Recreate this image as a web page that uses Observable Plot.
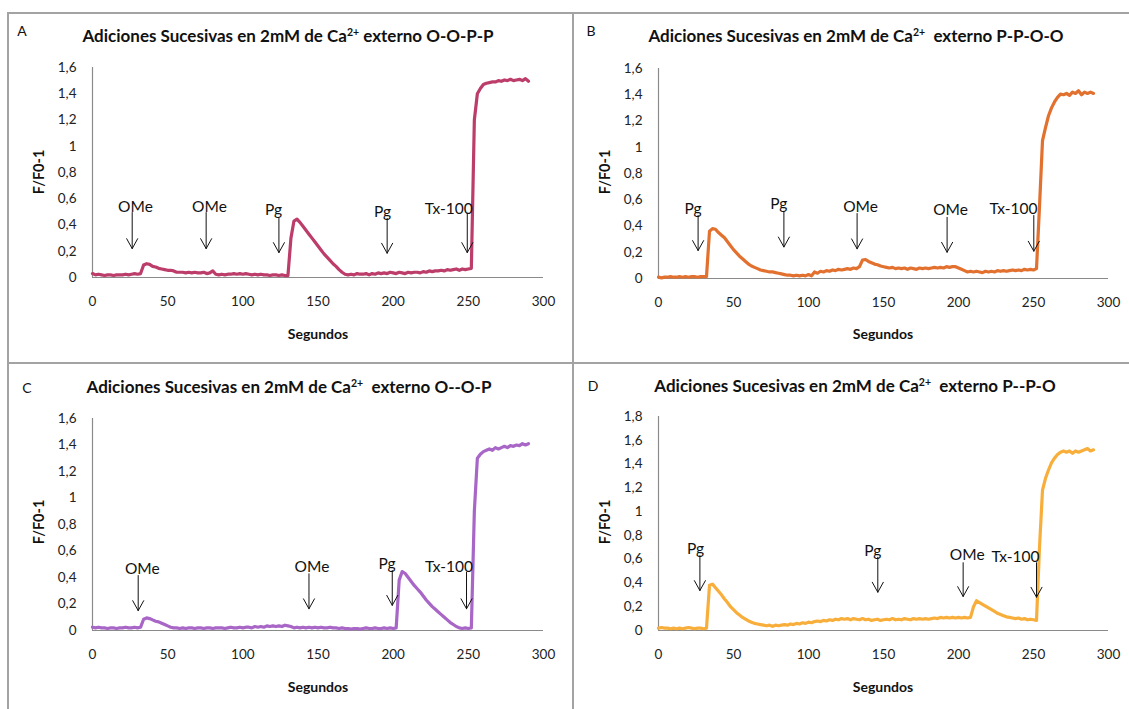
<!DOCTYPE html>
<html><head><meta charset="utf-8">
<script src="https://cdn.jsdelivr.net/npm/d3@7"></script>
<script src="https://cdn.jsdelivr.net/npm/@observablehq/plot@0.6"></script>
<style>
body{margin:0;background:#fff;}
#root{position:relative;width:1129px;height:709px;overflow:hidden;font-family:Lato,"Open Sans",sans-serif;color:#111;}
.ln{position:absolute;background:#a3a3a3;}
.pl{position:absolute;}
.pl svg{overflow:visible;}
.tt{position:absolute;font-weight:bold;font-size:17px;white-space:nowrap;transform:translate(-50%,-50%);}
.tt sup{font-size:0.62em;vertical-align:0.55em;line-height:0;}
.lt{position:absolute;font-size:14px;transform:translate(-50%,-50%);}
.xl{position:absolute;font-weight:bold;font-size:14px;transform:translate(-50%,-50%);}
.yl{position:absolute;font-weight:bold;font-size:14.5px;white-space:nowrap;transform:translate(-50%,-50%) rotate(-90deg);}
</style></head>
<body><div id="root"></div>
<script>
// ---- data ----
const segundos = [0,2,4,6,8,10,12,14,16,18,20,22,24,26,28,30,32,34,36,38,40,42,44,46,48,50,52,54,56,58,60,62,64,66,68,70,72,74,76,78,80,82,84,86,88,90,92,94,96,98,100,102,104,106,108,110,112,114,116,118,120,122,124,126,128,130,132,134,136,138,140,142,144,146,148,150,152,154,156,158,160,162,164,166,168,170,172,174,176,178,180,182,184,186,188,190,192,194,196,198,200,202,204,206,208,210,212,214,216,218,220,222,224,226,228,230,232,234,236,238,240,242,244,246,248,250,252,254,256,258,260,262,264,266,268,270,272,274,276,278,280,282,284,286,288,290];

const serieA = [
0.03,0.02,0.025,0.02,0.015,0.02,0.02,0.015,0.02,0.02,
0.02,0.025,0.02,0.025,0.03,0.025,0.03,0.095,0.105,0.1,
0.085,0.08,0.07,0.065,0.06,0.055,0.055,0.05,0.04,0.04,
0.04,0.035,0.04,0.035,0.04,0.035,0.035,0.04,0.03,0.035,
0.05,0.025,0.02,0.025,0.02,0.025,0.025,0.03,0.025,0.03,
0.025,0.03,0.025,0.02,0.025,0.02,0.025,0.02,0.02,0.015,
0.02,0.02,0.015,0.02,0.015,0.015,0.3,0.43,0.445,0.42,
0.39,0.36,0.33,0.3,0.27,0.24,0.21,0.18,0.155,0.13,
0.105,0.085,0.06,0.04,0.025,0.02,0.025,0.02,0.03,0.025,
0.025,0.03,0.02,0.03,0.025,0.035,0.03,0.035,0.03,0.04,
0.035,0.03,0.04,0.035,0.03,0.04,0.035,0.04,0.04,0.035,
0.045,0.04,0.05,0.045,0.05,0.05,0.055,0.05,0.06,0.055,
0.06,0.065,0.055,0.065,0.06,0.065,0.07,1.2,1.4,1.44,
1.47,1.48,1.485,1.49,1.49,1.5,1.495,1.505,1.5,1.51,
1.5,1.505,1.51,1.5,1.515,1.495];

const serieB = [
0.01,0.005,0.01,0.01,0.015,0.01,0.01,0.015,0.01,0.015,
0.01,0.015,0.015,0.01,0.015,0.015,0.015,0.36,0.38,0.375,
0.35,0.33,0.31,0.28,0.25,0.22,0.195,0.17,0.15,0.13,
0.11,0.095,0.085,0.075,0.065,0.06,0.055,0.05,0.05,0.045,
0.04,0.035,0.03,0.025,0.025,0.02,0.025,0.02,0.025,0.02,
0.03,0.02,0.05,0.04,0.055,0.05,0.06,0.055,0.065,0.06,
0.07,0.065,0.07,0.075,0.07,0.08,0.075,0.09,0.14,0.145,
0.13,0.12,0.11,0.105,0.095,0.09,0.085,0.08,0.085,0.075,
0.08,0.075,0.08,0.07,0.08,0.075,0.07,0.08,0.075,0.08,
0.075,0.08,0.085,0.08,0.085,0.08,0.09,0.085,0.09,0.09,
0.08,0.07,0.06,0.05,0.055,0.05,0.055,0.05,0.045,0.055,
0.05,0.055,0.05,0.06,0.055,0.06,0.055,0.06,0.065,0.06,
0.065,0.06,0.07,0.065,0.07,0.065,0.075,0.55,1.05,1.15,
1.24,1.3,1.345,1.38,1.405,1.4,1.41,1.395,1.42,1.41,
1.43,1.4,1.42,1.41,1.42,1.41];

const serieC = [
0.025,0.02,0.025,0.02,0.02,0.015,0.02,0.02,0.015,0.02,
0.02,0.025,0.02,0.02,0.025,0.02,0.025,0.085,0.095,0.09,
0.08,0.07,0.065,0.055,0.045,0.035,0.025,0.02,0.02,0.015,
0.02,0.015,0.02,0.02,0.015,0.02,0.02,0.015,0.02,0.02,
0.015,0.02,0.02,0.02,0.015,0.02,0.025,0.02,0.02,0.025,
0.02,0.025,0.025,0.02,0.03,0.025,0.03,0.025,0.035,0.03,
0.035,0.03,0.035,0.03,0.04,0.035,0.03,0.02,0.025,0.02,
0.025,0.02,0.025,0.02,0.025,0.02,0.025,0.02,0.02,0.025,
0.02,0.02,0.015,0.02,0.015,0.015,0.01,0.015,0.015,0.01,
0.015,0.02,0.015,0.015,0.02,0.015,0.015,0.02,0.015,0.02,
0.015,0.02,0.38,0.445,0.43,0.4,0.37,0.34,0.315,0.29,
0.26,0.23,0.205,0.18,0.16,0.14,0.12,0.1,0.08,0.06,
0.045,0.03,0.02,0.015,0.02,0.015,0.02,0.9,1.3,1.33,
1.35,1.36,1.37,1.36,1.38,1.37,1.38,1.39,1.38,1.395,
1.39,1.4,1.395,1.41,1.4,1.41];

const serieD = [
0.02,0.025,0.02,0.02,0.015,0.02,0.015,0.02,0.015,0.02,
0.025,0.02,0.015,0.02,0.02,0.015,0.02,0.38,0.39,0.36,
0.33,0.3,0.265,0.235,0.2,0.175,0.15,0.13,0.11,0.095,
0.08,0.07,0.06,0.055,0.05,0.045,0.04,0.045,0.035,0.045,
0.04,0.045,0.05,0.045,0.055,0.05,0.06,0.055,0.065,0.06,
0.07,0.065,0.075,0.08,0.075,0.085,0.08,0.09,0.085,0.095,
0.09,0.1,0.095,0.1,0.09,0.1,0.095,0.09,0.1,0.09,
0.095,0.085,0.09,0.095,0.085,0.09,0.095,0.09,0.1,0.09,
0.095,0.09,0.1,0.095,0.09,0.1,0.095,0.1,0.095,0.1,
0.095,0.1,0.105,0.1,0.11,0.105,0.11,0.105,0.11,0.105,
0.11,0.105,0.11,0.105,0.11,0.2,0.25,0.235,0.22,0.205,
0.19,0.175,0.16,0.145,0.135,0.125,0.115,0.11,0.105,0.1,
0.105,0.095,0.1,0.09,0.095,0.09,0.085,0.7,1.18,1.28,
1.35,1.41,1.45,1.48,1.5,1.51,1.5,1.51,1.49,1.51,
1.5,1.51,1.52,1.53,1.51,1.52];

const xTicks = [0,50,100,150,200,250,300];
const yTicks16 = [0,0.2,0.4,0.6,0.8,1,1.2,1.4,1.6];
const yTicks18 = [0,0.2,0.4,0.6,0.8,1,1.2,1.4,1.6,1.8];

// annotations (data units): label, label x/y, arrow x, arrow top, arrow tip
const notasA = ["OMe","OMe","Pg","Pg","Tx-100"];
const notaXA = [28.6,77.8,120.4,193,236.9];
const notaYA = [0.54,0.54,0.516,0.5,0.52];
const flechaXA = [26.4,75.6,124,196,249.3];
const flechaTopA = [0.495,0.495,0.45,0.45,0.49];
const flechaTipA = [0.22,0.22,0.19,0.185,0.19];

const notasB = ["Pg","Pg","OMe","OMe","Tx-100"];
const notaXB = [23.1,80.2,134.7,194.7,236.7];
const notaYB = [0.533,0.567,0.547,0.522,0.531];
const flechaXB = [26.4,83.6,132.4,192.4,250.2];
const flechaTopB = [0.48,0.505,0.495,0.466,0.48];
const flechaTipB = [0.213,0.24,0.226,0.2,0.208];

const notasC = ["OMe","OMe","Pg","Tx-100"];
const notaXC = [33.1,146,196,237.1];
const notaYC = [0.466,0.482,0.501,0.482];
const flechaXC = [30.4,144,199.4,248.8];
const flechaTopC = [0.415,0.428,0.453,0.44];
const flechaTipC = [0.15,0.164,0.19,0.164];

const notasD = ["Pg","Pg","OMe","Tx-100"];
const notaXD = [24.7,142.9,205.8,238];
const notaYD = [0.685,0.67,0.633,0.621];
const flechaXD = [27.6,146.2,203.1,252];
const flechaTopD = [0.63,0.616,0.57,0.57];
const flechaTipD = [0.336,0.322,0.286,0.28];

const titulos = [
  'Adiciones Sucesivas en 2mM de Ca<sup>2+</sup> externo O-O-P-P',
  'Adiciones Sucesivas en 2mM de Ca<sup>2+</sup>&nbsp; externo P-P-O-O',
  'Adiciones Sucesivas en 2mM de Ca<sup>2+</sup>&nbsp; externo O--O-P',
  'Adiciones Sucesivas en 2mM de Ca<sup>2+</sup>&nbsp; externo P--P-O'
];
const letras = ["A","B","C","D"];
const colores = ["#BC3C6A","#E2702F","#A866C6","#F8AE3A"];

// ---- layout ----
const root = document.getElementById("root");
function add(cls, html, x, y, css) {
  const d = document.createElement("div");
  d.className = cls; d.innerHTML = html;
  d.style.left = x + "px"; d.style.top = y + "px";
  if (css) Object.assign(d.style, css);
  root.appendChild(d); return d;
}
// frame lines
add("ln","",7,12,{width:"1122px",height:"1.5px"});
add("ln","",7,362,{width:"1122px",height:"1.5px"});
add("ln","",7,12,{width:"1.5px",height:"697px"});
add("ln","",572,12,{width:"2px",height:"697px"});

const fmt = d => String(d).replace(".", ",");

function panel(serie, color, yMax, yTicks, notas, nx, ny, fx, ftop, ftip, box) {
  const data = segundos.map((t, i) => ({t, v: serie[i]}));
  const ann = notas.map((s, i) => ({s, lx: nx[i], ly: ny[i], ax: fx[i], top: ftop[i], tip: ftip[i]}));
  const chart = Plot.plot({
    width: box.w, height: box.h,
    marginLeft: box.ml, marginRight: box.mr, marginTop: box.mt, marginBottom: box.mb,
    style: {background: "transparent", fontFamily: "Lato, 'Open Sans', sans-serif", fontSize: "13.5px", color: "#222"},
    x: {domain: [0, 300]},
    y: {domain: [0, yMax]},
    marks: [
      Plot.axisX({ticks: xTicks, tickSize: 0, tickPadding: 19, label: null, fontSize: 13.5}),
      Plot.axisY({ticks: yTicks, tickSize: 0, tickPadding: 16, label: null, tickFormat: fmt, fontSize: 13.5}),
      Plot.ruleY([0], {stroke: "#8a8a8a", strokeWidth: 1.2}),
      Plot.ruleX([0], {stroke: "#8a8a8a", strokeWidth: 1.2}),
      Plot.line(data, {x: "t", y: "v", stroke: color, strokeWidth: 3.2, strokeLinejoin: "round"}),
      Plot.text(ann, {x: "lx", y: "ly", text: "s", fontSize: 15.5, fill: "#111", textAnchor: "middle", lineAnchor: "middle"}),
      Plot.arrow(ann, {x1: "ax", x2: "ax", y1: "top", y2: "tip", stroke: "#111", strokeWidth: 1, headLength: 17, headAngle: 58})
    ]
  });
  const wrap = document.createElement("div");
  wrap.className = "pl";
  wrap.style.left = box.x + "px"; wrap.style.top = box.y + "px";
  wrap.appendChild(chart);
  root.appendChild(wrap);
}

const series = [serieA, serieB, serieC, serieD];
if (series.some(s => s.length !== segundos.length)) throw new Error("length mismatch " + series.map(s => s.length));

const boxes = [
  {x: 7, y: 12, w: 565, h: 350, ml: 85, mr: 29, mt: 55, mb: 85},
  {x: 572, y: 12, w: 557, h: 350, ml: 86, mr: 21, mt: 56, mb: 84},
  {x: 7, y: 362, w: 565, h: 347, ml: 85, mr: 29, mt: 56, mb: 79},
  {x: 572, y: 362, w: 557, h: 347, ml: 86, mr: 21, mt: 54, mb: 79}
];

panel(serieA, colores[0], 1.6, yTicks16, notasA, notaXA, notaYA, flechaXA, flechaTopA, flechaTipA, boxes[0]);
panel(serieB, colores[1], 1.6, yTicks16, notasB, notaXB, notaYB, flechaXB, flechaTopB, flechaTipB, boxes[1]);
panel(serieC, colores[2], 1.6, yTicks16, notasC, notaXC, notaYC, flechaXC, flechaTopC, flechaTipC, boxes[2]);
panel(serieD, colores[3], 1.8, yTicks18, notasD, notaXD, notaYD, flechaXD, flechaTopD, flechaTipD, boxes[3]);

// texts
const titlePos = [[288,35],[856,35],[289,386],[855,385]];
const letterPos = [[22,30],[591,30],[27,387],[593,385]];
const segPos = [[318,333],[883,333],[318,686],[883,686]];
const yLabPos = [[38,172],[604,172],[38,522],[604,522]];
for (let i = 0; i < 4; i++) {
  add("tt", titulos[i], titlePos[i][0], titlePos[i][1]);
  add("lt", letras[i], letterPos[i][0], letterPos[i][1]);
  add("xl", "Segundos", segPos[i][0], segPos[i][1]);
  add("yl", "F/F0-1", yLabPos[i][0], yLabPos[i][1]);
}
</script>
</body></html>
